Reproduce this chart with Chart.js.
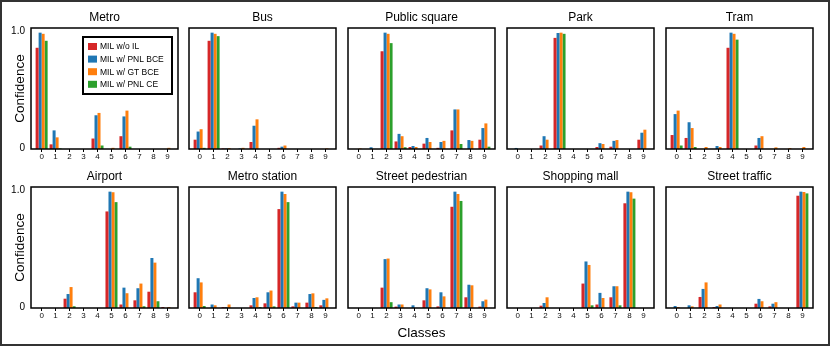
<!DOCTYPE html>
<html>
<head>
<meta charset="utf-8">
<script src="https://cdn.jsdelivr.net/npm/chart.js@4.4.1/dist/chart.umd.min.js"></script>
<style>
  html, body { margin: 0; padding: 0; background: #fff; overflow: hidden; }
  #figure { position: relative; width: 830px; height: 346px; overflow: hidden; background: #fff; }
  #frame { position: absolute; left: 0; top: 0; width: 830px; height: 346px; box-sizing: border-box; border: 2px solid #333; pointer-events: none; }
  canvas.panel { position: absolute; }
</style>
</head>
<body>
<div id="figure"><div id="frame"></div></div>
<script>
// ---- data ----
const classes = [0, 1, 2, 3, 4, 5, 6, 7, 8, 9];
const seriesLabels = ['MIL w/o IL', 'MIL w/ PNL BCE', 'MIL w/ GT BCE', 'MIL w/ PNL CE'];
const yTickValues = [0, 1.0];

// each scene: rows follow seriesLabels order, columns follow classes
const metro = [
  [0.87, 0.04, 0, 0, 0.09, 0, 0.11, 0, 0, 0],
  [1.0, 0.16, 0, 0, 0.29, 0, 0.28, 0, 0, 0],
  [0.99, 0.10, 0, 0, 0.31, 0.01, 0.33, 0, 0, 0.01],
  [0.93, 0.005, 0, 0, 0.03, 0, 0.02, 0, 0, 0]
];
const bus = [
  [0.08, 0.93, 0.005, 0, 0.06, 0, 0.01, 0, 0, 0],
  [0.15, 1.0, 0.005, 0.005, 0.20, 0, 0.02, 0, 0, 0],
  [0.17, 0.99, 0.008, 0.01, 0.255, 0, 0.03, 0, 0, 0.005],
  [0.01, 0.97, 0, 0, 0, 0, 0, 0, 0, 0]
];
const publicSquare = [
  [0, 0, 0.84, 0.065, 0.017, 0.046, 0.01, 0.16, 0, 0.08],
  [0, 0.015, 1.0, 0.13, 0.026, 0.095, 0.06, 0.34, 0.077, 0.18],
  [0.005, 0, 0.99, 0.11, 0.017, 0.06, 0.07, 0.34, 0.07, 0.22],
  [0, 0, 0.91, 0.015, 0, 0, 0, 0.043, 0, 0.02]
];
const park = [
  [0, 0, 0.03, 0.955, 0, 0, 0.017, 0.02, 0, 0.08],
  [0.009, 0, 0.11, 0.997, 0, 0, 0.05, 0.07, 0, 0.14],
  [0, 0, 0.08, 1.0, 0, 0, 0.043, 0.077, 0, 0.166],
  [0, 0, 0, 0.99, 0, 0, 0, 0, 0, 0]
];
const tram = [
  [0.12, 0.095, 0, 0, 0.87, 0, 0.03, 0, 0, 0],
  [0.30, 0.23, 0, 0.026, 1.0, 0, 0.095, 0, 0, 0],
  [0.33, 0.18, 0.017, 0.017, 0.99, 0, 0.11, 0.014, 0.008, 0.017],
  [0.03, 0.017, 0, 0, 0.94, 0, 0, 0, 0, 0]
];
const airport = [
  [0, 0, 0.08, 0, 0, 0.83, 0.03, 0.066, 0.14, 0.008],
  [0, 0, 0.12, 0, 0, 1.0, 0.175, 0.17, 0.43, 0],
  [0, 0, 0.18, 0, 0, 0.995, 0.127, 0.21, 0.39, 0.008],
  [0, 0, 0.015, 0, 0, 0.91, 0, 0.015, 0.058, 0]
];
const metroStation = [
  [0.135, 0, 0.008, 0, 0.023, 0.04, 0.85, 0.014, 0.046, 0.023],
  [0.256, 0.03, 0.008, 0, 0.086, 0.135, 1.0, 0.046, 0.12, 0.07],
  [0.22, 0.023, 0.03, 0, 0.092, 0.15, 0.98, 0.046, 0.126, 0.083],
  [0.017, 0, 0, 0, 0.008, 0.014, 0.91, 0, 0.008, 0]
];
const streetPedestrian = [
  [0, 0, 0.175, 0.012, 0, 0.066, 0.014, 0.87, 0.092, 0.012],
  [0, 0, 0.42, 0.03, 0.023, 0.17, 0.135, 1.0, 0.2, 0.058],
  [0, 0, 0.425, 0.03, 0, 0.16, 0.1, 0.98, 0.195, 0.072],
  [0, 0, 0.05, 0, 0, 0, 0, 0.92, 0, 0]
];
const shoppingMall = [
  [0, 0, 0.02, 0, 0, 0.21, 0.03, 0.092, 0.90, 0],
  [0, 0, 0.043, 0, 0, 0.40, 0.13, 0.187, 1.0, 0],
  [0, 0, 0.092, 0, 0, 0.37, 0.086, 0.187, 0.995, 0],
  [0, 0, 0, 0, 0, 0.023, 0, 0.023, 0.94, 0]
];
const streetTraffic = [
  [0, 0, 0.095, 0.008, 0, 0, 0.037, 0.014, 0, 0.965],
  [0.017, 0.023, 0.164, 0.017, 0, 0, 0.078, 0.037, 0, 1.0],
  [0.008, 0.014, 0.22, 0.03, 0, 0, 0.058, 0.05, 0, 0.997],
  [0, 0, 0, 0, 0, 0, 0, 0, 0, 0.985]
];

const sceneTitles = ['Metro', 'Bus', 'Public square', 'Park', 'Tram',
  'Airport', 'Metro station', 'Street pedestrian', 'Shopping mall', 'Street traffic'];
const sceneValues = [metro, bus, publicSquare, park, tram,
  airport, metroStation, streetPedestrian, shoppingMall, streetTraffic];

// ---- styling / layout ----
const colors = ['#d62728', '#1f77b4', '#ff7f0e', '#2ca02c'];
const FONT = "'Liberation Sans', Arial, Helvetica, sans-serif";
const colLeft = [31, 189, 348, 507, 666];
const rowTop = [28, 187];
const PW = 147, PH = 121;
const ML = 31, MR = 31, MT = 28, MB = 36;

Chart.defaults.font.family = FONT;

// box around every axes
const panelFrame = {
  id: 'panelFrame',
  afterDatasetsDraw(chart) {
    const a = chart.chartArea, ctx = chart.ctx;
    ctx.save();
    ctx.strokeStyle = '#000';
    ctx.lineWidth = 1.5;
    ctx.strokeRect(a.left, a.top, a.right - a.left, a.bottom - a.top);
    ctx.restore();
  }
};

// matplotlib style legend inside the first axes
const frameLegend = {
  id: 'frameLegend',
  afterDraw(chart) {
    const a = chart.chartArea, ctx = chart.ctx;
    const w = 89, h = 57;
    const x0 = a.right - 95, y0 = a.top + 9;
    ctx.save();
    ctx.fillStyle = '#fff';
    ctx.fillRect(x0, y0, w, h);
    ctx.strokeStyle = '#000';
    ctx.lineWidth = 2;
    ctx.strokeRect(x0, y0, w, h);
    ctx.font = '8.5px ' + FONT;
    ctx.textBaseline = 'middle';
    chart.data.datasets.forEach((ds, i) => {
      const cy = y0 + 9.5 + i * 12.6;
      ctx.fillStyle = ds.backgroundColor;
      ctx.fillRect(x0 + 5, cy - 3.5, 9, 7);
      ctx.fillStyle = '#000';
      ctx.fillText(ds.label, x0 + 17, cy + 0.5);
    });
    ctx.restore();
  }
};

const figure = document.getElementById('figure');

sceneTitles.forEach((title, idx) => {
  const r = Math.floor(idx / 5), c = idx % 5;
  const canvas = document.createElement('canvas');
  canvas.className = 'panel';
  canvas.width = ML + PW + MR;
  canvas.height = MT + PH + MB;
  canvas.style.left = (colLeft[c] - ML) + 'px';
  canvas.style.top = (rowTop[r] - MT) + 'px';
  canvas.style.width = canvas.width + 'px';
  canvas.style.height = canvas.height + 'px';
  figure.insertBefore(canvas, document.getElementById('frame'));

  const vals = sceneValues[idx];
  const firstCol = c === 0;
  const showXTitle = idx === 7;

  new Chart(canvas.getContext('2d'), {
    type: 'bar',
    data: {
      datasets: seriesLabels.map((label, k) => ({
        label: label,
        data: classes.map((cl, i) => ({ x: cl, y: vals[k][i] })),
        backgroundColor: colors[k],
        borderWidth: 0,
        categoryPercentage: 0.86,
        barPercentage: 1.0,
        xAxisID: 'x',
        yAxisID: 'y'
      }))
    },
    options: {
      responsive: false,
      animation: false,
      layout: { padding: 0 },
      plugins: {
        legend: { display: false },
        tooltip: { enabled: false },
        title: {
          display: true,
          text: title,
          color: '#000',
          font: { size: 12, weight: 'normal' },
          padding: { top: 10.8, bottom: 2.8 }
        }
      },
      scales: {
        x: {
          type: 'linear',
          offset: false,
          min: -0.76,
          max: 9.76,
          afterBuildTicks: s => { s.ticks = classes.map(v => ({ value: v })); },
          afterFit: s => { s.height = MB; },
          grid: { display: true, offset: false, drawOnChartArea: false, drawTicks: true, tickLength: 3, color: '#000', lineWidth: 1 },
          border: { display: false },
          ticks: { color: '#111', font: { size: 8 }, padding: 0, maxRotation: 0, autoSkip: false, callback: v => String(v) },
          title: {
            display: showXTitle,
            text: 'Classes',
            color: '#000',
            font: { size: 13.5 },
            padding: { top: 0, bottom: 3 }
          }
        },
        y: {
          type: 'linear',
          position: 'left',
          min: 0,
          max: 1.04,
          afterBuildTicks: s => { s.ticks = yTickValues.map(v => ({ value: v })); },
          afterFit: s => { s.width = ML; },
          grid: { display: false, drawTicks: false, tickLength: 0 },
          border: { display: false },
          ticks: {
            display: firstCol,
            padding: 6,
            labelOffset: -1,
            color: '#000',
            font: { size: 10 },
            callback: v => (v === 0 ? '0' : v.toFixed(1))
          },
          title: {
            display: firstCol,
            text: 'Confidence',
            color: '#000',
            font: { size: 13.5 },
            padding: { top: 12, bottom: 0 }
          }
        },
        yr: {
          type: 'linear',
          position: 'right',
          display: true,
          grid: { display: false, drawTicks: false },
          border: { display: false },
          ticks: { display: false },
          afterFit: s => { s.width = MR; }
        }
      }
    },
    plugins: idx === 0 ? [panelFrame, frameLegend] : [panelFrame]
  });
});
</script>
</body>
</html>
